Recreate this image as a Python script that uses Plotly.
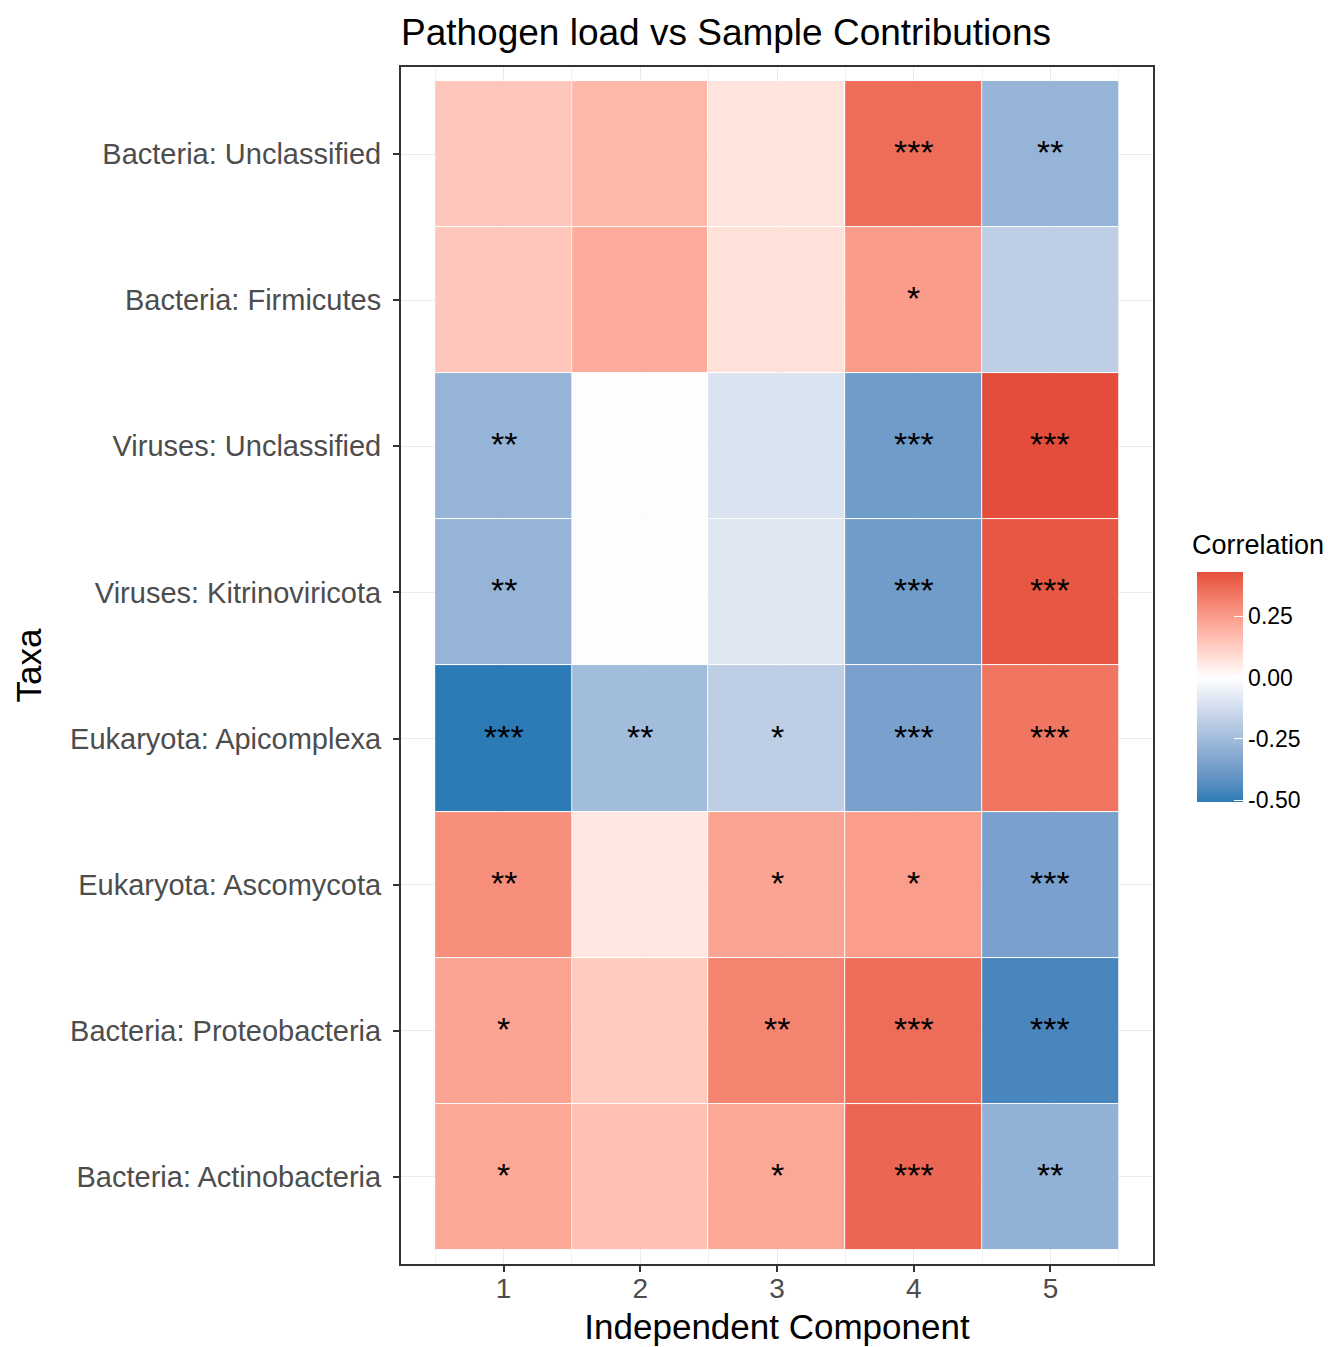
import plotly.graph_objects as go

# Taxa listed from top row to bottom row
taxa = [
    "Bacteria: Unclassified",
    "Bacteria: Firmicutes",
    "Viruses: Unclassified",
    "Viruses: Kitrinoviricota",
    "Eukaryota: Apicomplexa",
    "Eukaryota: Ascomycota",
    "Bacteria: Proteobacteria",
    "Bacteria: Actinobacteria",
]
components = [1, 2, 3, 4, 5]

# Correlation of each taxon with each independent component
corr_bact_unclassified = [0.14, 0.18, 0.07, 0.36, -0.28]
corr_bact_firmicutes = [0.14, 0.21, 0.075, 0.25, -0.18]
corr_vir_unclassified = [-0.28, 0.0, -0.10, -0.375, 0.43]
corr_vir_kitrino = [-0.28, 0.005, -0.09, -0.375, 0.41]
corr_euk_apicomplexa = [-0.507, -0.25, -0.18, -0.35, 0.34]
corr_euk_ascomycota = [0.28, 0.06, 0.23, 0.245, -0.35]
corr_bact_proteo = [0.23, 0.13, 0.31, 0.36, -0.46]
corr_bact_actino = [0.22, 0.16, 0.22, 0.375, -0.29]

# Significance stars
sig_bact_unclassified = ["", "", "", "***", "**"]
sig_bact_firmicutes = ["", "", "", "*", ""]
sig_vir_unclassified = ["**", "", "", "***", "***"]
sig_vir_kitrino = ["**", "", "", "***", "***"]
sig_euk_apicomplexa = ["***", "**", "*", "***", "***"]
sig_euk_ascomycota = ["**", "", "*", "*", "***"]
sig_bact_proteo = ["*", "", "**", "***", "***"]
sig_bact_actino = ["*", "", "*", "***", "**"]

corr_rows = [corr_bact_unclassified, corr_bact_firmicutes, corr_vir_unclassified,
             corr_vir_kitrino, corr_euk_apicomplexa, corr_euk_ascomycota,
             corr_bact_proteo, corr_bact_actino]
sig_rows = [sig_bact_unclassified, sig_bact_firmicutes, sig_vir_unclassified,
            sig_vir_kitrino, sig_euk_apicomplexa, sig_euk_ascomycota,
            sig_bact_proteo, sig_bact_actino]

colorbar_ticks = [-0.5, -0.25, 0.0, 0.25]
colorbar_ticktext = ["-0.50", "-0.25", "0.00", "0.25"]


# ---- diverging low/mid/high gradient interpolated in CIE Lab ----
def _to_lin(c):
    c = c / 255.0
    return c / 12.92 if c <= 0.04045 else ((c + 0.055) / 1.055) ** 2.4


def _from_lin(c):
    c = 12.92 * c if c <= 0.0031308 else 1.055 * c ** (1 / 2.4) - 0.055
    return max(0, min(255, round(c * 255)))


_WHITE = (0.95047, 1.0, 1.08883)


def rgb_to_lab(rgb):
    r, g, b = (_to_lin(v) for v in rgb)
    x = 0.4124564 * r + 0.3575761 * g + 0.1804375 * b
    y = 0.2126729 * r + 0.7151522 * g + 0.0721750 * b
    z = 0.0193339 * r + 0.1191920 * g + 0.9503041 * b

    def f(t):
        return t ** (1 / 3) if t > 0.008856 else 7.787 * t + 16 / 116

    fx, fy, fz = f(x / _WHITE[0]), f(y / _WHITE[1]), f(z / _WHITE[2])
    return (116 * fy - 16, 500 * (fx - fy), 200 * (fy - fz))


def lab_to_rgb(lab):
    L, a, b = lab
    fy = (L + 16) / 116
    fx = fy + a / 500
    fz = fy - b / 200

    def finv(t):
        return t ** 3 if t ** 3 > 0.008856 else (t - 16 / 116) / 7.787

    x, y, z = finv(fx) * _WHITE[0], finv(fy) * _WHITE[1], finv(fz) * _WHITE[2]
    r = 3.2404542 * x - 1.5371385 * y - 0.4985314 * z
    g = -0.9692660 * x + 1.8760108 * y + 0.0415560 * z
    bl = 0.0556434 * x - 0.2040259 * y + 1.0572252 * z
    return (_from_lin(r), _from_lin(g), _from_lin(bl))


def hex_rgb(h):
    h = h.lstrip("#")
    return tuple(int(h[i:i + 2], 16) for i in (0, 2, 4))


LOW, MID, HIGH = hex_rgb("#2C7BB6"), hex_rgb("#FFFFFF"), hex_rgb("#D7191C")
lab_low, lab_mid, lab_high = rgb_to_lab(LOW), rgb_to_lab(MID), rgb_to_lab(HIGH)

all_vals = [v for row in corr_rows for v in row]
zmin, zmax = min(all_vals), max(all_vals)
half = max(abs(zmin), abs(zmax))


def colour_at(v):
    t = 0.5 + v / (2 * half)
    if t <= 0.5:
        s = t / 0.5
        lab = tuple(lo + (mi - lo) * s for lo, mi in zip(lab_low, lab_mid))
    else:
        s = (t - 0.5) / 0.5
        lab = tuple(mi + (hi - mi) * s for mi, hi in zip(lab_mid, lab_high))
    return "rgb(%d,%d,%d)" % lab_to_rgb(lab)


n_stops = 60
colorscale = []
for i in range(n_stops + 1):
    p = i / n_stops
    v = zmin + p * (zmax - zmin)
    colorscale.append([p, colour_at(v)])

FONT = "Helvetica, Liberation Sans, Arial, sans-serif"

fig = go.Figure()
fig.add_trace(go.Heatmap(
    x=components,
    y=taxa,
    z=corr_rows,
    zmin=zmin,
    zmax=zmax,
    colorscale=colorscale,
    xgap=1,
    ygap=1,
    colorbar=dict(
        thickness=46,
        lenmode="pixels",
        len=230,
        ypad=0,
        xpad=0,
        x=1.0585,
        xanchor="left",
        y=0.482,
        yanchor="middle",
        outlinewidth=0,
        tickvals=colorbar_ticks,
        ticktext=colorbar_ticktext,
        ticks="inside",
        ticklen=9,
        tickcolor="white",
        tickwidth=1.2,
        tickfont=dict(family=FONT, size=23, color="black"),
    ),
    hoverinfo="skip",
))

# Legend title, placed above the colour bar
fig.add_annotation(text="Correlation", xref="paper", yref="paper",
                   x=1.0492, y=0.6007, xanchor="left", yanchor="middle",
                   showarrow=False,
                   font=dict(family=FONT, size=27, color="black"))

for taxon, row_vals, row_sig in zip(taxa, corr_rows, sig_rows):
    for comp, s in zip(components, row_sig):
        if s:
            fig.add_annotation(x=comp, y=taxon, text=s, showarrow=False,
                               font=dict(family=FONT, size=34, color="black"),
                               yshift=2)

fig.update_layout(
    width=1328,
    height=1347,
    margin=dict(l=401, r=175, t=67, b=83, autoexpand=False),
    paper_bgcolor="white",
    plot_bgcolor="white",
    title=dict(text="Pathogen load vs Sample Contributions",
               x=401 / 1328, xanchor="left", xref="container",
               y=1 - 32 / 1347, yanchor="middle", yref="container",
               font=dict(family=FONT, size=37, color="black")),
    xaxis=dict(
        range=[0.25, 5.75],
        tickvals=components,
        ticks="outside", ticklen=6, tickcolor="#333333", tickwidth=1.5,
        tickfont=dict(family=FONT, size=28, color="#4D4D4D"),
        ticklabelstandoff=-8,
        showgrid=True, gridcolor="#EBEBEB", gridwidth=1.2,
        minor=dict(dtick=0.5, tick0=0.5, showgrid=True, gridcolor="#F2F2F2",
                   gridwidth=1),
        showline=True, mirror=True, linecolor="#333333", linewidth=2,
        zeroline=False,
        title=dict(text="Independent Component", standoff=12,
                   font=dict(family=FONT, size=35, color="black")),
    ),
    yaxis=dict(
        type="category",
        categoryorder="array",
        categoryarray=list(reversed(taxa)),
        range=[-0.596, len(taxa) - 1 + 0.596],
        ticks="outside", ticklen=6, tickcolor="#333333", tickwidth=1.5,
        tickfont=dict(family=FONT, size=29, color="#4D4D4D"),
        ticklabelstandoff=6,
        showgrid=True, gridcolor="#EBEBEB", gridwidth=1.2,
        showline=True, mirror=True, linecolor="#333333", linewidth=2,
        zeroline=False,
        title=dict(text="Taxa", standoff=18,
                   font=dict(family=FONT, size=35, color="black")),
    ),
)

fig.write_html("out.html")
